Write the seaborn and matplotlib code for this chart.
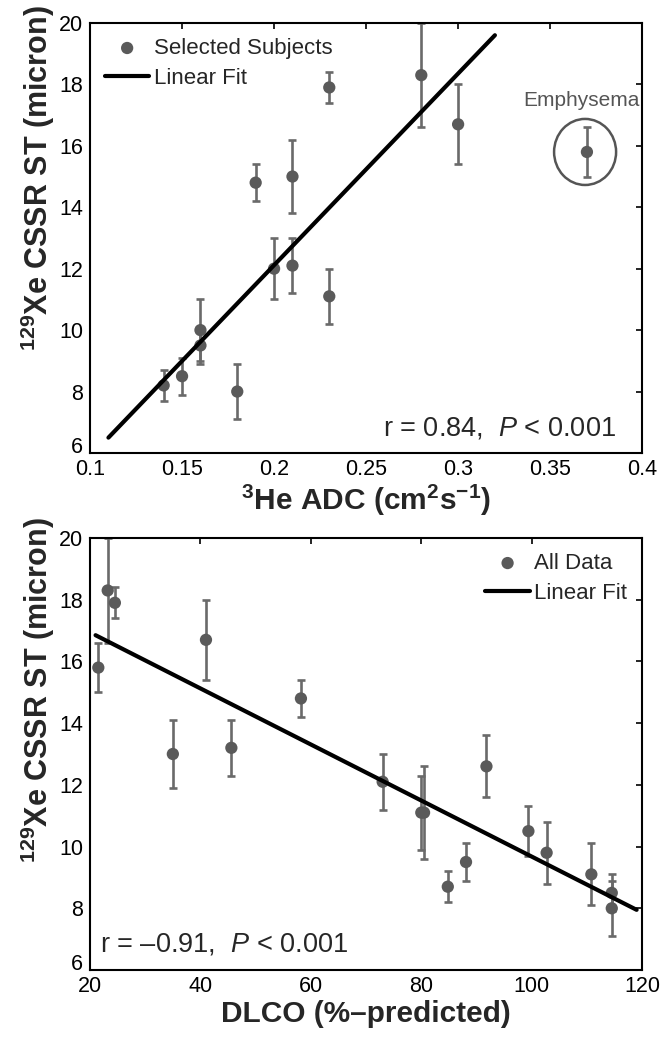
import matplotlib
matplotlib.use("Agg")
import matplotlib.pyplot as plt
from matplotlib.patches import Ellipse
import seaborn as sns
import pandas as pd

# ---------------- data ----------------
adc = [0.14, 0.15, 0.16, 0.16, 0.18, 0.19, 0.20, 0.21, 0.21, 0.23, 0.23, 0.28, 0.30, 0.37]
st_top = [8.2, 8.5, 10.0, 9.5, 8.0, 14.8, 12.0, 12.1, 15.0, 17.9, 11.1, 18.3, 16.7, 15.8]
err_top = [0.5, 0.6, 1.0, 0.6, 0.9, 0.6, 1.0, 0.9, 1.2, 0.5, 0.9, 1.7, 1.3, 0.8]
fit_top_x = [0.11, 0.32]
fit_top_y = [6.5, 19.6]

dlco = [21.5, 23.2, 24.5, 35, 41, 45.6, 58.2, 73, 80, 80.5, 84.8, 88.1, 91.8, 99.4, 102.7, 110.8, 114.5, 114.5]
st_bot = [15.8, 18.3, 17.9, 13.0, 16.7, 13.2, 14.8, 12.1, 11.1, 11.1, 8.7, 9.5, 12.6, 10.5, 9.8, 9.1, 8.5, 8.0]
err_bot = [0.8, 1.7, 0.5, 1.1, 1.3, 0.9, 0.6, 0.9, 1.2, 1.5, 0.5, 0.6, 1.0, 0.8, 1.0, 1.0, 0.6, 0.9]
fit_bot_x = [21, 119]
fit_bot_y = [16.85, 7.95]

top_xticks = [0.1, 0.15, 0.2, 0.25, 0.3, 0.35, 0.4]
top_xticklabels = ["0.1", "0.15", "0.2", "0.25", "0.3", "0.35", "0.4"]
bot_xticks = [20, 40, 60, 80, 100, 120]
yticks = [6, 8, 10, 12, 14, 16, 18, 20]

# ---------------- style ----------------
sns.set_theme(style="white")
plt.rcParams["font.family"] = ["Liberation Sans", "DejaVu Sans"]
plt.rcParams["mathtext.fontset"] = "custom"
plt.rcParams["mathtext.rm"] = "Liberation Sans"
plt.rcParams["mathtext.it"] = "Liberation Sans:italic"
plt.rcParams["mathtext.bf"] = "Liberation Sans:bold"

MC = "#5a5a5a"
EC = "#6a6a6a"
YLABEL = r"$^{\mathbf{129}}$Xe CSSR ST (micron)"

fig = plt.figure(figsize=(6.62, 10.38), dpi=100)
ax1 = fig.add_axes([0.136, 0.5636, 0.834, 0.4143])
ax2 = fig.add_axes([0.136, 0.0655, 0.834, 0.4162])


def style_axes(ax):
    for s in ax.spines.values():
        s.set_linewidth(1.5)
        s.set_color("black")
    ax.tick_params(direction="in", length=4, width=1.2, top=True, right=True,
                   labelsize=15.5, colors="black")
    ax.tick_params(axis="x", pad=4.5)
    ax.tick_params(axis="y", pad=5)


def draw(ax, x, y, e, fx, fy, label):
    ax.errorbar(x, y, yerr=e, fmt="none", ecolor=EC, elinewidth=1.9,
                capsize=3, capthick=1.9, zorder=2)
    df = pd.DataFrame({"x": x, "y": y})
    sns.scatterplot(data=df, x="x", y="y", ax=ax, color=MC, s=78,
                    edgecolor="none", label=label, zorder=3)
    fdf = pd.DataFrame({"x": fx, "y": fy})
    sns.lineplot(data=fdf, x="x", y="y", ax=ax, color="black", lw=3.0,
                 label="Linear Fit", zorder=4)


LEG = dict(frameon=False, fontsize=16, handlelength=2.0, handletextpad=0.2,
           borderaxespad=0.27, labelspacing=0.4)

# ---- top panel ----
draw(ax1, adc, st_top, err_top, fit_top_x, fit_top_y, "Selected Subjects")
ax1.set_xlim(0.1, 0.4)
ax1.set_ylim(6, 20)
ax1.set_xticks(top_xticks)
ax1.set_xticklabels(top_xticklabels)
ax1.set_yticks(yticks)
style_axes(ax1)
ax1.set_xlabel(r"$^{\mathbf{3}}$He ADC (cm$^{\mathbf{2}}$s$^{\mathbf{-1}}$)",
               fontsize=21.5, fontweight="bold", labelpad=2)
ax1.set_ylabel(YLABEL, fontsize=22, fontweight="bold")
ax1.yaxis.set_label_coords(-0.06, 0.64)
ax1.add_patch(Ellipse((0.369, 15.8), width=0.0337, height=2.15, fill=False,
                      ec="#555555", lw=1.8, zorder=3))
ax1.text(0.367, 17.49, "Emphysema", color="#555555", fontsize=15,
         ha="center", va="center")
ax1.text(0.386, 6.81, "r = 0.84,  $P$ < 0.001", fontsize=19.5, ha="right",
         va="center")
ax1.legend(loc="upper left", **LEG)

# ---- bottom panel ----
draw(ax2, dlco, st_bot, err_bot, fit_bot_x, fit_bot_y, "All Data")
ax2.set_xlim(20, 120)
ax2.set_ylim(6, 20)
ax2.set_xticks(bot_xticks)
ax2.set_yticks(yticks)
style_axes(ax2)
ax2.set_xlabel("DLCO (%\u2013predicted)", fontsize=21.5, fontweight="bold",
               labelpad=2)
ax2.set_ylabel(YLABEL, fontsize=22, fontweight="bold")
ax2.yaxis.set_label_coords(-0.06, 0.648)
ax2.text(21.8, 6.84, "r = \u20130.91,  $P$ < 0.001", fontsize=19.5, ha="left",
         va="center")
ax2.legend(loc="upper right", **LEG)

# lift the lowest y tick label so it does not collide with the first x label
for ax in (ax1, ax2):
    ax.get_yticklabels()[0].set_verticalalignment("baseline")

fig.savefig("out.png", dpi=100)
